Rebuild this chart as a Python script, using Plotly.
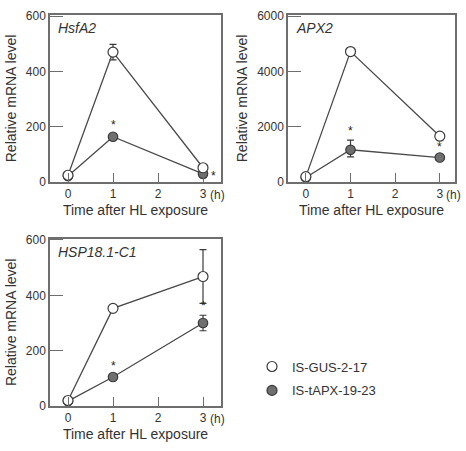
import plotly.graph_objects as go

# ---------------- data ----------------
times = [0, 1, 3]
genes = ["HsfA2", "APX2", "HSP18.1-C1"]
series_names = ["IS-GUS-2-17", "IS-tAPX-19-23"]

hsfa2_gus = [25, 470, 52]
hsfa2_gus_err = [5, 28, 8]
hsfa2_tapx = [22, 164, 30]
hsfa2_tapx_err = [3, 10, 5]

apx2_gus = [200, 4720, 1660]
apx2_gus_err = [30, 60, 60]
apx2_tapx = [170, 1170, 890]
apx2_tapx_err_plus = [30, 350, 60]
apx2_tapx_err_minus = [30, 260, 60]

hsp_gus = [20, 353, 468]
hsp_gus_err = [5, 10, 97]
hsp_tapx = [18, 105, 300]
hsp_tapx_err = [3, 8, 28]

# significance (time points marked with *)
sig_hsfa2 = [1, 3]
sig_apx2 = [1, 3]
sig_hsp = [1, 3]

y_ticks_small = [0, 200, 400, 600]
y_ticks_apx = [0, 2000, 4000, 6000]
x_ticks = [0, 1, 2, 3]

# ---------------- styling ----------------
W, H = 466, 451
FONT = "Liberation Sans, Arial, sans-serif"
TXT = "#333333"
LINE = "#4a4a4a"
AX = "#6e6e6e"
FILL_DARK = "#6f6f6f"


def px_x(p):
    return p / W


def px_y(p):
    return 1 - p / H


fig = go.Figure()

panels = [
    dict(name="HsfA2", gus=hsfa2_gus, gus_p=hsfa2_gus_err, gus_m=hsfa2_gus_err,
         tapx=hsfa2_tapx, tapx_p=hsfa2_tapx_err, tapx_m=hsfa2_tapx_err,
         sig=sig_hsfa2, ticks=y_ticks_small, yr=[0, 605],
         xd=[px_x(50), px_x(221)], yd=[px_y(182), px_y(10)], xr=[-0.4, 3.4]),
    dict(name="APX2", gus=apx2_gus, gus_p=apx2_gus_err, gus_m=apx2_gus_err,
         tapx=apx2_tapx, tapx_p=apx2_tapx_err_plus, tapx_m=apx2_tapx_err_minus,
         sig=sig_apx2, ticks=y_ticks_apx, yr=[0, 6050],
         xd=[px_x(288), px_x(455)], yd=[px_y(182), px_y(10)], xr=[-0.4, 3.34]),
    dict(name="HSP18.1-C1", gus=hsp_gus, gus_p=hsp_gus_err, gus_m=hsp_gus_err,
         tapx=hsp_tapx, tapx_p=hsp_tapx_err, tapx_m=hsp_tapx_err,
         sig=sig_hsp, ticks=y_ticks_small, yr=[0, 605],
         xd=[px_x(50), px_x(221)], yd=[px_y(412), px_y(240)], xr=[-0.4, 3.4]),
]

annotations = []
layout_axes = {}

for i, p in enumerate(panels, start=1):
    sx = "" if i == 1 else str(i)
    xref, yref = "x" + sx, "y" + sx
    # closed (tAPX) first so open circles draw on top where they overlap
    fig.add_trace(go.Scatter(
        x=times, y=p["tapx"], mode="lines+markers", xaxis=xref, yaxis=yref,
        showlegend=False,
        line=dict(color=LINE, width=1.3),
        marker=dict(size=9.5, color=FILL_DARK, line=dict(color="#3a3a3a", width=1.2)),
        error_y=dict(type="data", array=p["tapx_p"], arrayminus=p["tapx_m"],
                     color="#3a3a3a", thickness=1.2, width=3.5),
    ))
    fig.add_trace(go.Scatter(
        x=times, y=p["gus"], mode="lines+markers", xaxis=xref, yaxis=yref,
        showlegend=False,
        line=dict(color=LINE, width=1.3),
        marker=dict(size=10, color="white", line=dict(color="#3a3a3a", width=1.2)),
        error_y=dict(type="data", array=p["gus_p"], arrayminus=p["gus_m"],
                     color="#3a3a3a", thickness=1.2, width=3.5),
    ))

    ax_common = dict(showline=True, mirror=True, linecolor=AX, linewidth=1.5,
                     ticks="inside", tickcolor=AX, tickwidth=1.3,
                     showgrid=False, zeroline=False,
                     tickfont=dict(family=FONT, size=12, color=TXT))
    layout_axes["xaxis" + sx] = dict(
        ax_common, domain=p["xd"], range=p["xr"], anchor=yref,
        tickvals=x_ticks, ticklen=9,
        title=dict(text="Time after HL exposure", standoff=5,
                   font=dict(family=FONT, size=14, color=TXT)))
    layout_axes["yaxis" + sx] = dict(
        ax_common, domain=p["yd"], range=p["yr"], anchor=xref,
        tickvals=p["ticks"], ticklen=13,
        title=dict(text="Relative mRNA level", standoff=6,
                   font=dict(family=FONT, size=14, color=TXT)))

    # gene name
    annotations.append(dict(
        text="<i>" + p["name"] + "</i>", xref=xref + " domain", yref=yref + " domain",
        x=0.035, y=0.92, xanchor="left", yanchor="middle", showarrow=False,
        font=dict(family=FONT, size=14, color=TXT)))
    # "(h)" unit beside the last tick
    annotations.append(dict(
        text="(h)", xref=xref, yref=yref + " domain", x=3.1, y=0,
        xanchor="left", yanchor="top", yshift=-4, showarrow=False,
        font=dict(family=FONT, size=12, color=TXT)))

    # significance asterisks, placed from the data values
    for t in p["sig"]:
        k = times.index(t)
        if i == 1 and t == 3:
            annotations.append(dict(
                text="*", xref=xref, yref=yref, x=t, y=p["tapx"][k],
                xanchor="center", yanchor="middle", xshift=10, yshift=-2,
                showarrow=False, font=dict(family=FONT, size=12, color="#222222")))
        else:
            annotations.append(dict(
                text="*", xref=xref, yref=yref, x=t,
                y=p["tapx"][k] + p["tapx_p"][k],
                xanchor="center", yanchor="bottom", yshift=0,
                showarrow=False, font=dict(family=FONT, size=12, color="#222222")))

# legend entries
fig.add_trace(go.Scatter(x=[None], y=[None], mode="markers", name=series_names[0],
                         legendgroup="a", xaxis="x", yaxis="y",
                         marker=dict(size=10, color="white", line=dict(color="#3a3a3a", width=1.2))))
fig.add_trace(go.Scatter(x=[None], y=[None], mode="markers", name=series_names[1],
                         legendgroup="b", xaxis="x", yaxis="y",
                         marker=dict(size=10, color=FILL_DARK, line=dict(color="#3a3a3a", width=1.2))))

fig.update_layout(
    width=W, height=H, margin=dict(l=0, r=0, t=0, b=0),
    paper_bgcolor="white", plot_bgcolor="white",
    font=dict(family=FONT, color=TXT),
    showlegend=True,
    legend=dict(x=px_x(252), y=px_y(356), xanchor="left", yanchor="top",
                font=dict(family=FONT, size=13, color=TXT),
                tracegroupgap=4, bgcolor="rgba(0,0,0,0)", itemwidth=30),
    annotations=annotations,
    **layout_axes,
)

fig.write_html("out.html")
